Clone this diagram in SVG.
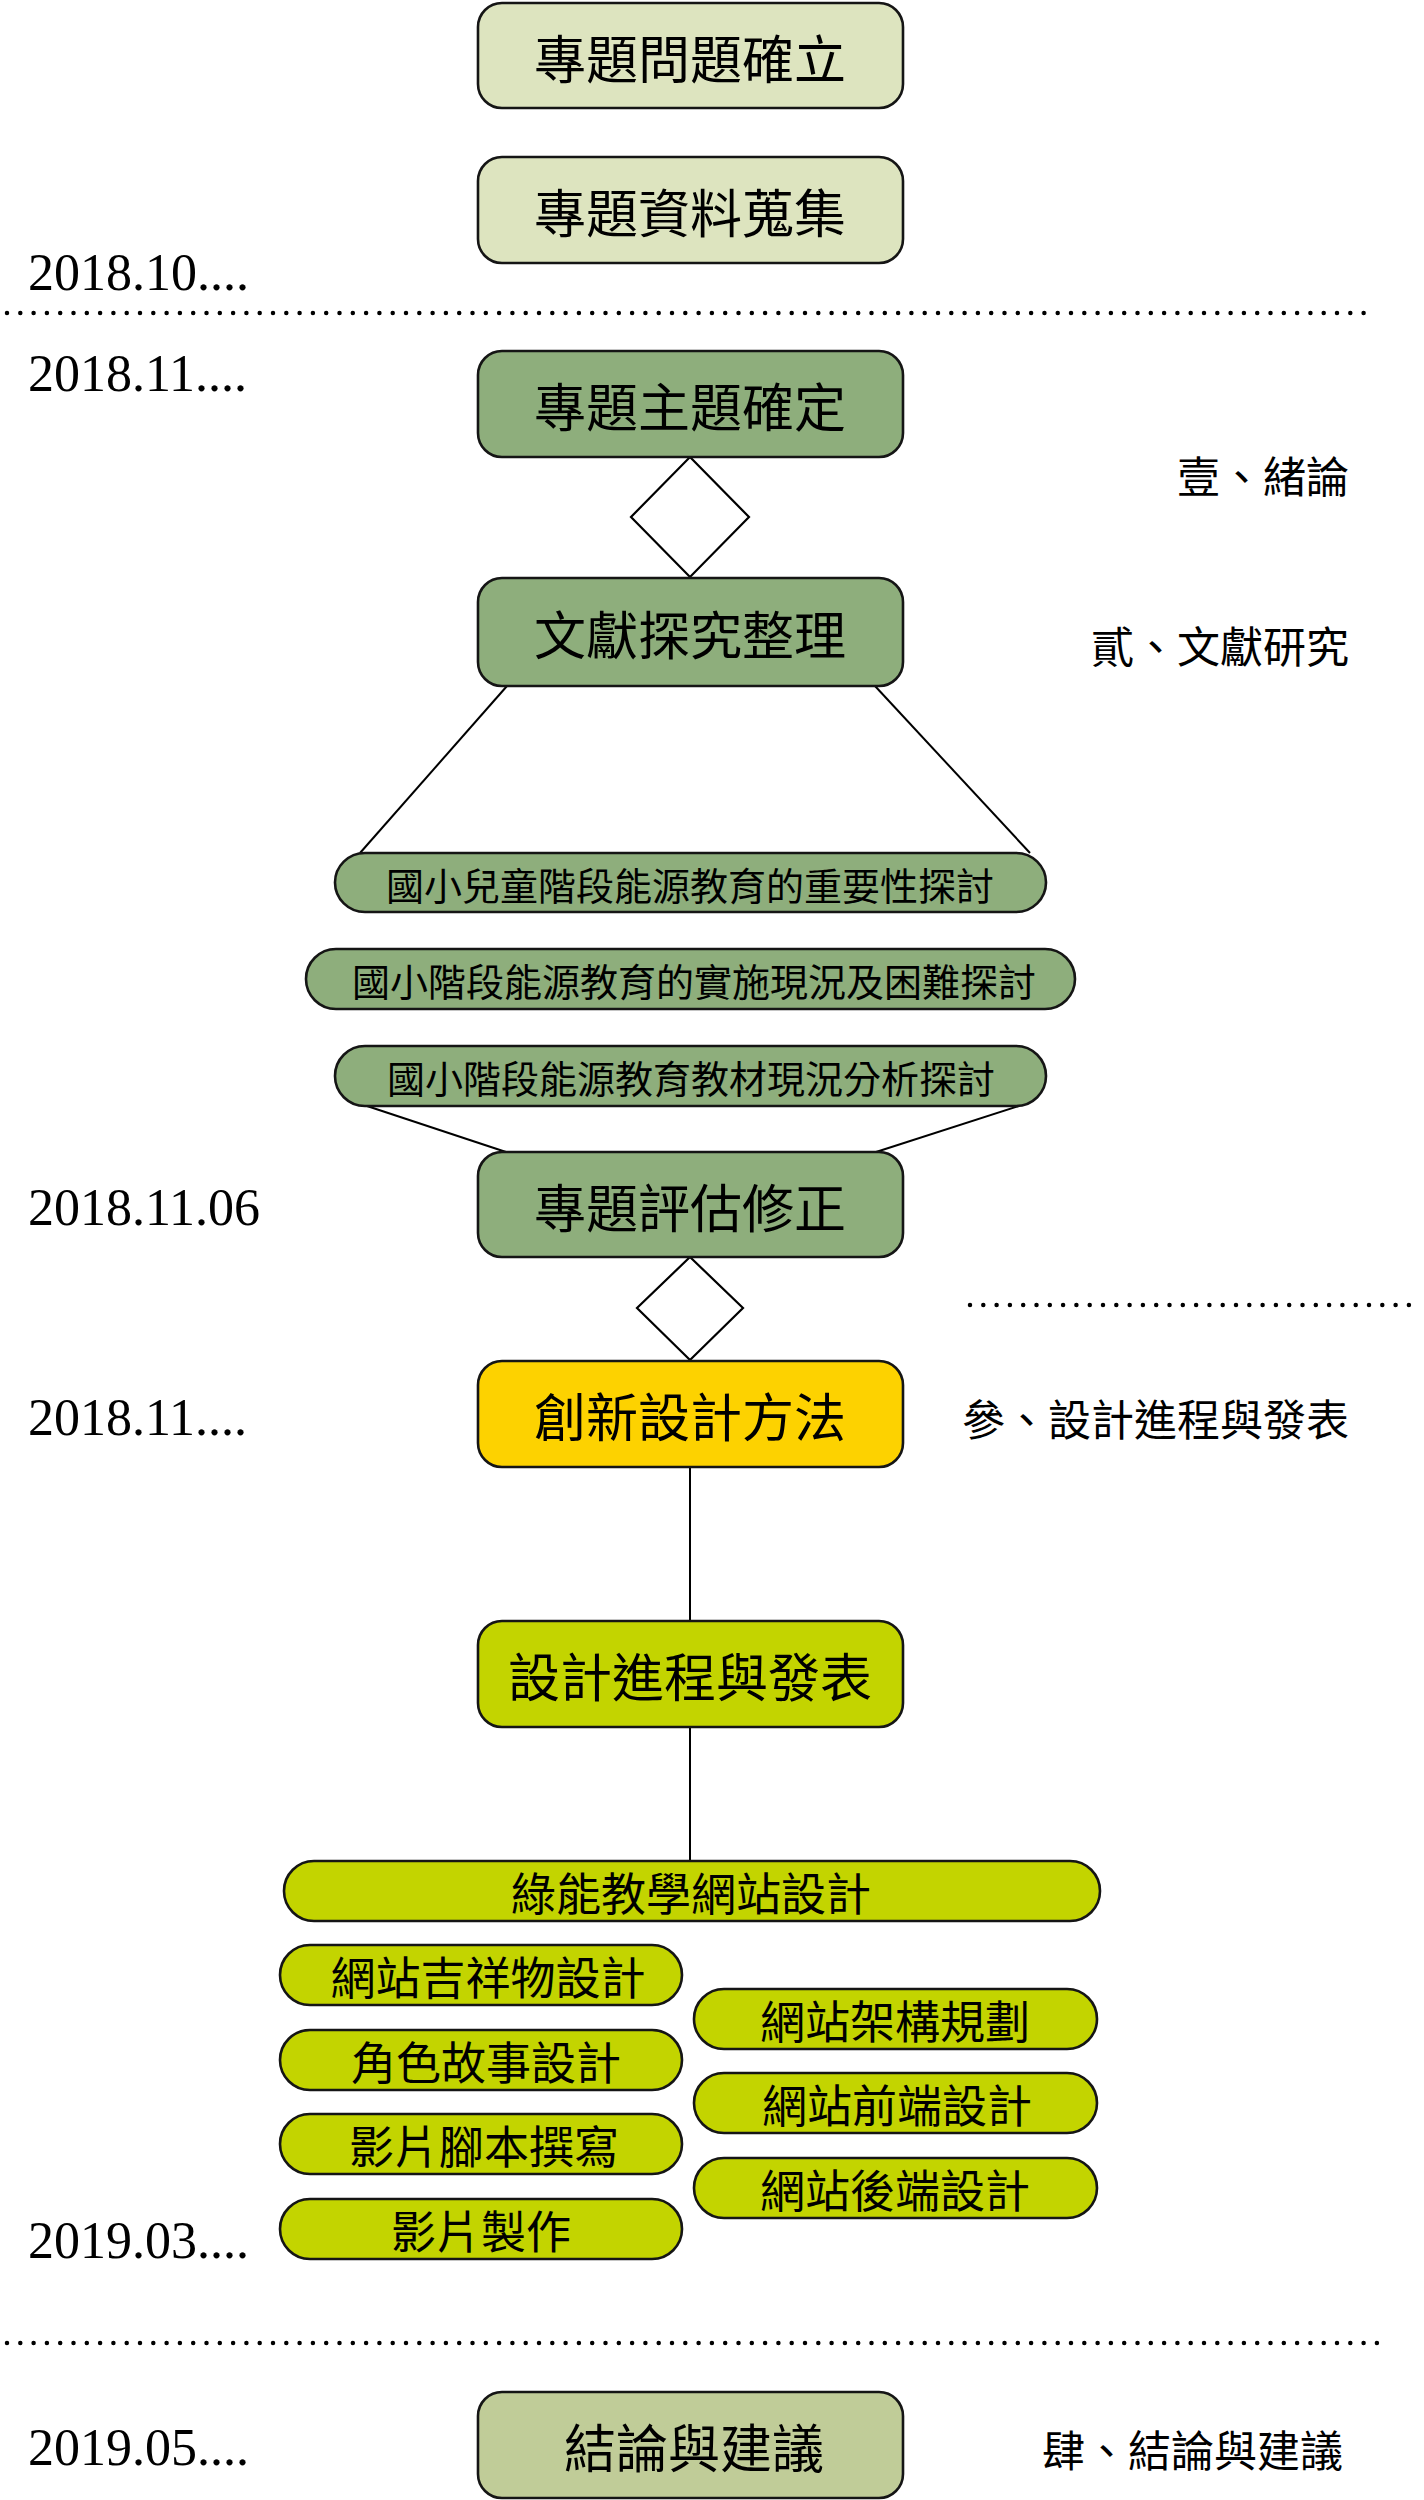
<svg xmlns="http://www.w3.org/2000/svg" width="1424" height="2500" viewBox="0 0 1424 2500">
<style>
  .box { stroke: #151515; stroke-width: 2.6; }
  .c1 { fill: #dde4bf; }
  .c2 { fill: #8eae7c; }
  .c3 { fill: #fdd200; }
  .c4 { fill: #c3d400; }
  .c5 { fill: #c0cc98; }
  .t { font-family: "Noto Sans CJK TC", "Noto Sans CJK SC", sans-serif; fill: #000; text-anchor: middle; dominant-baseline: central; }
  .big { font-size: 52px; }
  .mid { font-size: 45px; }
  .sm { font-size: 38px; }
  .lbl { font-family: "Noto Sans CJK TC", "Noto Sans CJK SC", sans-serif; font-size: 43px; fill: #000; text-anchor: end; dominant-baseline: central; }
  .date { font-family: "Liberation Serif", "Times New Roman", serif; font-size: 52px; fill: #000; }
  .dots { stroke: #000; stroke-width: 4.5; stroke-linecap: round; stroke-dasharray: 0 13.3; fill: none; }
  .ln { stroke: #000; stroke-width: 2; fill: none; }
  .dia { fill: #fff; stroke: #000; stroke-width: 2.2; }
</style>

<g id="guides">
  <line class="dots" x1="7" y1="313" x2="1376" y2="313"/>
  <line class="dots" x1="970" y1="1305" x2="1420" y2="1305"/>
  <line class="dots" x1="7" y1="2343" x2="1380" y2="2343"/>
</g>

<g id="dates">
  <text class="date" x="28" y="290">2018.10....</text>
  <text class="date" x="28" y="391">2018.11....</text>
  <text class="date" x="28" y="1225">2018.11.06</text>
  <text class="date" x="28" y="1435">2018.11....</text>
  <text class="date" x="28" y="2258">2019.03....</text>
  <text class="date" x="28" y="2465">2019.05....</text>
</g>

<g id="labels">
  <text class="lbl" x="1349" y="474">壹、緒論</text>
  <text class="lbl" x="1349" y="644">貳、文獻研究</text>
  <text class="lbl" x="1349" y="1417">參、設計進程與發表</text>
  <text class="lbl" x="1343" y="2448">肆、結論與建議</text>
</g>

<g id="connectors">
  <line class="ln" x1="507" y1="686" x2="360" y2="853"/>
  <line class="ln" x1="875" y1="686" x2="1030" y2="853"/>
  <line class="ln" x1="367" y1="1106" x2="506" y2="1152"/>
  <line class="ln" x1="1019" y1="1106" x2="876" y2="1152"/>
  <line class="ln" x1="690" y1="1467" x2="690" y2="1621"/>
  <line class="ln" x1="690" y1="1727" x2="690" y2="1861"/>
</g>

<g id="diamond1"><polygon class="dia" points="690,457 749,517 690,577 631,517"/></g>
<g id="diamond2"><polygon class="dia" points="690,1257 743,1308 690,1360 637,1308"/></g>

<g id="n1"><rect class="box c1" x="478" y="3" width="425" height="105" rx="24"/><text class="t big" x="690" y="56">專題問題確立</text></g>
<g id="n2"><rect class="box c1" x="478" y="157" width="425" height="106" rx="24"/><text class="t big" x="690" y="210">專題資料蒐集</text></g>
<g id="n3"><rect class="box c2" x="478" y="351" width="425" height="106" rx="24"/><text class="t big" x="690" y="404">專題主題確定</text></g>
<g id="n4"><rect class="box c2" x="478" y="578" width="425" height="108" rx="24"/><text class="t big" x="690" y="632">文獻探究整理</text></g>

<g id="lit1"><rect class="box c2" x="335" y="853" width="711" height="59" rx="30"/><text class="t sm" x="690" y="883">國小兒童階段能源教育的重要性探討</text></g>
<g id="lit2"><rect class="box c2" x="306" y="949" width="769" height="60" rx="30"/><text class="t sm" x="694" y="979">國小階段能源教育的實施現況及困難探討</text></g>
<g id="lit3"><rect class="box c2" x="335" y="1046" width="711" height="60" rx="30"/><text class="t sm" x="691" y="1076">國小階段能源教育教材現況分析探討</text></g>

<g id="n5"><rect class="box c2" x="478" y="1152" width="425" height="105" rx="24"/><text class="t big" x="690" y="1205">專題評估修正</text></g>
<g id="n6"><rect class="box c3" x="478" y="1361" width="425" height="106" rx="24"/><text class="t big" x="690" y="1414">創新設計方法</text></g>
<g id="n7"><rect class="box c4" x="478" y="1621" width="425" height="106" rx="24"/><text class="t big" x="690" y="1674">設計進程與發表</text></g>

<g id="web"><rect class="box c4" x="284" y="1861" width="816" height="60" rx="30"/><text class="t mid" x="691" y="1891">綠能教學網站設計</text></g>
<g id="w1"><rect class="box c4" x="280" y="1945" width="402" height="60" rx="30"/><text class="t mid" x="488" y="1975">網站吉祥物設計</text></g>
<g id="w2"><rect class="box c4" x="280" y="2030" width="402" height="60" rx="30"/><text class="t mid" x="486" y="2060">角色故事設計</text></g>
<g id="w3"><rect class="box c4" x="280" y="2114" width="402" height="60" rx="30"/><text class="t mid" x="484" y="2144">影片腳本撰寫</text></g>
<g id="w4"><rect class="box c4" x="280" y="2199" width="402" height="60" rx="30"/><text class="t mid" x="481" y="2229">影片製作</text></g>
<g id="w5"><rect class="box c4" x="694" y="1989" width="403" height="60" rx="30"/><text class="t mid" x="895" y="2019">網站架構規劃</text></g>
<g id="w6"><rect class="box c4" x="694" y="2073" width="403" height="60" rx="30"/><text class="t mid" x="897" y="2103">網站前端設計</text></g>
<g id="w7"><rect class="box c4" x="694" y="2158" width="403" height="60" rx="30"/><text class="t mid" x="895" y="2188">網站後端設計</text></g>

<g id="n8"><rect class="box c5" x="478" y="2392" width="425" height="106" rx="24"/><text class="t big" x="694" y="2445">結論與建議</text></g>
</svg>
